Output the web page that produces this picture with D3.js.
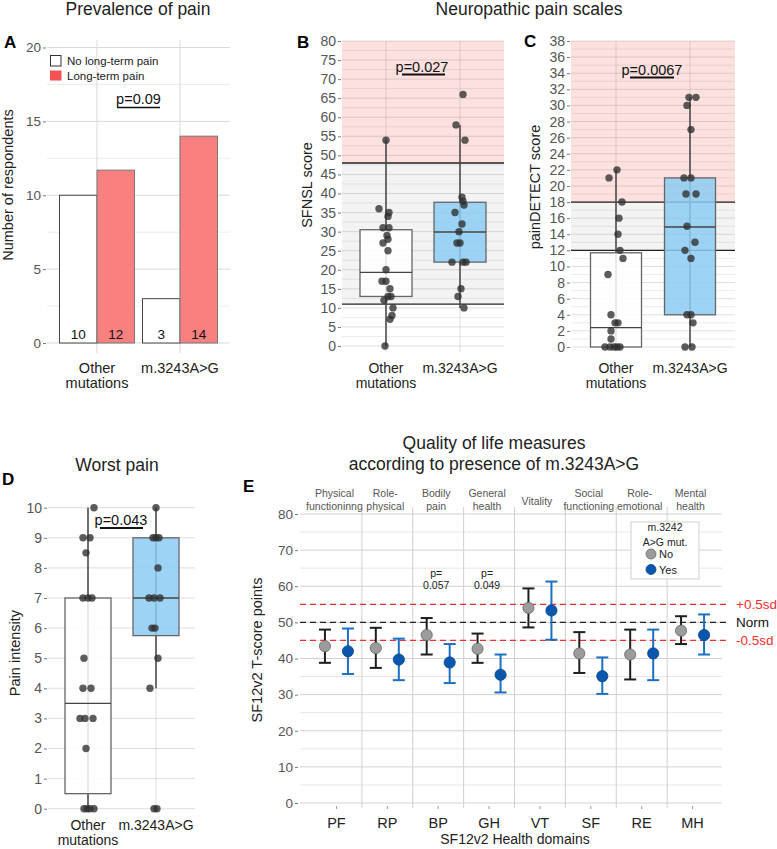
<!DOCTYPE html>
<html><head><meta charset="utf-8">
<script src="https://cdn.jsdelivr.net/npm/d3@7"></script>
<style>
body{margin:0;background:#fff;}
svg{display:block;font-family:"Liberation Sans",Arial,Helvetica,sans-serif;}
</style></head><body>
<svg id="chart" width="777" height="849"></svg>
<script>
// ---------- DATA ----------
const groups = ["Other mutations", "m.3243A>G"];
const groupTickLabels = [["Other", "mutations"], ["m.3243A>G"]];

// Panel A: prevalence of pain
const noPainCounts = [10, 3];
const painCounts = [11.7, 14];
const noPainLabels = ["10", "3"];
const painLabels = ["12", "14"];
const prevTicks = [0, 5, 10, 15, 20];
const prevLegend = ["No long-term pain", "Long-term pain"];

// Panel B: SFNSL
const sfnslOther = [54, 36, 35, 34, 31, 31, 29, 28, 27, 25, 20, 17, 17, 15, 13, 13, 12, 10, 8, 7, 0];
const sfnslOtherJit = [0, -7, 3, 2, -3, 3, 1, 2, -3, 2, 0, -4, 0, 4, 2, 5, -2, 7, 6, 4, -1];
const sfnslM = [66, 58, 54, 39, 38, 37, 35, 32, 30, 27, 27, 22, 22, 22, 15, 13, 10];
const sfnslMJit = [3, -4, 5, 2, 3, 4, -5, 2, -1, -3, 0, -8, 3, 6, 1, -2, 4];
const sfnslBoxOther = [0, 13, 19.3, 30.5, 54];   // low, q1, median, q3, high
const sfnslBoxM = [10, 22, 29.9, 37.7, 58];
const sfnslTicks = d3.range(0, 81, 5);
const sfnslCutoffs = [11, 48];

// Panel C: painDETECT
const pdOther = [22, 21, 18, 16, 14, 12, 11, 9, 4, 3, 3, 2, 1, 0, 0, 0, 0, 0];
const pdOtherJit = [1, -7, 6, 3, 2, 4, 7, -8, -5, -1, 2, -5, -5, -11, -6, -2, 1, 4];
const pdM = [31, 31, 30, 27, 21, 21, 19, 19, 15, 13, 12, 11, 4, 4, 3, 0, 0];
const pdMJit = [-1, 6, -3, 1, -6, 1, -4, 6, -3, 5, -5, 1, -3, 1, 3, -5, 2];
const pdBoxOther = [0, 0, 2.4, 11.7, 22];
const pdBoxM = [0, 4, 14.9, 21, 31];
const pdTicks = d3.range(0, 39, 2);
const pdCutoffs = [12, 18];

// Panel D: worst pain
const worstOther = [10, 9, 9, 8.5, 7, 7, 7, 5, 4, 4, 3, 3, 3, 2, 0, 0, 0, 0];
const worstOtherJit = [6, -5, 2, -2, -5, 0, 4, -4, -5, 3, -8, -3, 5, -2, -4, -1, 2, 6];
const worstM = [10, 9, 9, 9, 8, 7, 7, 7, 6, 6, 5, 4, 0, 0];
const worstMJit = [0, -3, 0, 3, 2, -7, -2, 4, -4, -1, 2, -6, -2, 1];
const worstBoxOther = [0, 0.5, 3.5, 7, 10];
const worstBoxM = [4, 5.75, 7, 9, 10];
const worstTicks = d3.range(0, 11, 1);

// Panel E: SF12v2
const domains = ["PF", "RP", "BP", "GH", "VT", "SF", "RE", "MH"];
const domainNames = [["Physical", "functioninng"], ["Role-", "physical"], ["Bodily", "pain"], ["General", "health"],
  ["Vitality"], ["Social", "functioning"], ["Role-", "emotional"], ["Mental", "health"]];
const noMean = [43.4, 42.9, 46.5, 42.7, 54.0, 41.4, 41.1, 47.7];
const noLow = [38.8, 37.4, 41.1, 38.8, 48.6, 36.0, 34.2, 44.0];
const noHigh = [48.0, 48.5, 51.2, 46.9, 59.4, 47.3, 48.0, 51.7];
const yesMean = [42.0, 39.7, 38.9, 35.5, 53.3, 35.1, 41.4, 46.5];
const yesLow = [35.7, 34.0, 33.2, 30.6, 45.2, 30.2, 34.0, 41.1];
const yesHigh = [48.3, 45.5, 44.0, 41.1, 61.3, 40.3, 48.0, 52.2];
const pDomains = ["BP", "GH"];
const pValues = ["0.057", "0.049"];
const refValues = [55, 50, 45];
const refLabels = ["+0.5sd", "Norm", "-0.5sd"];
const sfTicks = d3.range(0, 81, 10);

// ---------- DRAW ----------
const svg = d3.select("#chart");
const GRAY = "#555";

function text(x, y, s, o = {}) {
  const t = svg.append("text").attr("x", x).attr("y", y).text(s)
    .attr("font-size", o.size || 14).attr("fill", o.fill || "#222")
    .attr("text-anchor", o.anchor || "middle");
  if (o.weight) t.attr("font-weight", o.weight);
  if (o.rotate) t.attr("transform", `rotate(-90,${x},${y})`);
  return t;
}
function leftAxis(scale, x, ticks, size) {
  const g = svg.append("g").attr("transform", `translate(${x},0)`)
    .call(d3.axisLeft(scale).tickValues(ticks).tickSize(3).tickPadding(2));
  g.select(".domain").remove();
  g.selectAll(".tick line").attr("stroke", "#777");
  g.selectAll(".tick text").attr("font-size", size).attr("fill", GRAY)
    .attr("font-family", "Liberation Sans, Arial, sans-serif");
  return g;
}

// Titles
text(138, 15, "Prevalence of pain", { size: 17.5 });
text(529, 15, "Neuropathic pain scales", { size: 17.5 });
text(117, 471, "Worst pain", { size: 17.5 });
text(494, 449, "Quality of life measures", { size: 17.5 });
text(494, 470, "according to presence of m.3243A>G", { size: 17.5 });
// Panel letters
text(4, 48, "A", { size: 17, weight: "bold", anchor: "start", fill: "#000" });
text(297, 48, "B", { size: 17, weight: "bold", anchor: "start", fill: "#000" });
text(524, 47, "C", { size: 17, weight: "bold", anchor: "start", fill: "#000" });
text(2, 485, "D", { size: 17, weight: "bold", anchor: "start", fill: "#000" });
text(243, 492, "E", { size: 17, weight: "bold", anchor: "start", fill: "#000" });

// ----- Panel A -----
{
  const y = d3.scaleLinear().domain([0, 20]).range([343, 47.5]);
  const x = d3.scalePoint().domain(groups).range([97, 180]);
  const sub = d3.scaleBand().domain(["no", "pain"]).range([-37.5, 37.5]);
  d3.range(0, 20.01, 2.5).forEach(v => {
    svg.append("line").attr("x1", 47).attr("x2", 230).attr("y1", y(v)).attr("y2", y(v))
      .attr("stroke", v % 5 === 0 ? "#d9d9d9" : "#ececec").attr("stroke-width", 1);
  });
  groups.forEach(gname => svg.append("line").attr("x1", x(gname)).attr("x2", x(gname))
    .attr("y1", 40).attr("y2", 353).attr("stroke", "#d9d9d9"));
  leftAxis(y, 46, prevTicks, 13.5);
  groups.forEach((gname, i) => {
    svg.append("rect").attr("x", x(gname) + sub("no")).attr("width", sub.bandwidth())
      .attr("y", y(noPainCounts[i])).attr("height", y(0) - y(noPainCounts[i]))
      .attr("fill", "#fff").attr("stroke", "#444").attr("stroke-width", 1);
    svg.append("rect").attr("x", x(gname) + sub("pain")).attr("width", sub.bandwidth())
      .attr("y", y(painCounts[i])).attr("height", y(0) - y(painCounts[i]))
      .attr("fill", "#f88080").attr("stroke", "#777").attr("stroke-width", 1);
    text(x(gname) + sub("no") + sub.bandwidth() / 2, 339, noPainLabels[i], { size: 13.5, fill: "#111" });
    text(x(gname) + sub("pain") + sub.bandwidth() / 2, 339, painLabels[i], { size: 13.5, fill: "#111" });
    groupTickLabels[i].forEach((l, k) => text(x(gname), 373 + k * 15, l, { size: 14.5 }));
  });
  // legend
  svg.append("rect").attr("x", 50.5).attr("y", 55.5).attr("width", 10.5).attr("height", 10.5)
    .attr("fill", "#fff").attr("stroke", "#333");
  svg.append("rect").attr("x", 50).attr("y", 70.5).attr("width", 11.5).attr("height", 10)
    .attr("fill", "#f25252");
  text(67, 64.5, prevLegend[0], { size: 11.5, anchor: "start" });
  text(67, 79.5, prevLegend[1], { size: 11.5, anchor: "start" });
  // p value
  text(138.5, 104, "p=0.09", { size: 14.5, fill: "#111" });
  svg.append("line").attr("x1", 117).attr("x2", 160).attr("y1", 107.5).attr("y2", 107.5)
    .attr("stroke", "#111").attr("stroke-width", 1.5);
  text(13, 185, "Number of respondents", { size: 14.5, rotate: true });
}

// ----- Box panels -----
function boxPanel(o) {
  const y = d3.scaleLinear().domain([0, o.max]).range([o.y0, o.y1]);
  const x = d3.scalePoint().domain(groups).range(o.centers);
  (o.shades || []).forEach(s => svg.append("rect").attr("x", o.px[0]).attr("width", o.px[1] - o.px[0])
    .attr("y", y(s[1])).attr("height", y(s[0]) - y(s[1])).attr("fill", s[2]));
  d3.range(0, o.max + 1e-6, o.gridStep).forEach(v => {
    const major = Math.abs(v / o.tickStep - Math.round(v / o.tickStep)) < 1e-6;
    svg.append("line").attr("x1", o.px[0]).attr("x2", o.px[1]).attr("y1", y(v)).attr("y2", y(v))
      .attr("stroke", "#000").attr("stroke-opacity", major ? 0.13 : 0.08);
  });
  groups.forEach(gname => svg.append("line").attr("x1", x(gname)).attr("x2", x(gname))
    .attr("y1", o.vTop).attr("y2", o.vBot).attr("stroke", "#000").attr("stroke-opacity", 0.12));
  (o.cuts || []).forEach(c => svg.append("line").attr("x1", o.px[0]).attr("x2", o.px[1])
    .attr("y1", y(c)).attr("y2", y(c)).attr("stroke", "#222").attr("stroke-width", 1.3));
  leftAxis(y, o.px[0] - 1, o.ticks, 14);
  o.boxes.forEach((b, i) => {
    const cx = x(groups[i]);
    svg.append("line").attr("x1", cx).attr("x2", cx).attr("y1", y(b[0])).attr("y2", y(b[4]))
      .attr("stroke", "#444").attr("stroke-width", 1.5);
    svg.append("rect").attr("x", cx - o.boxW / 2).attr("width", o.boxW)
      .attr("y", y(b[3])).attr("height", y(b[1]) - y(b[3]))
      .attr("fill", i === 0 ? "#ffffff" : "#8ccbf2").attr("fill-opacity", 0.85)
      .attr("stroke", "#666").attr("stroke-width", 1.3);
    svg.append("line").attr("x1", cx - o.boxW / 2).attr("x2", cx + o.boxW / 2)
      .attr("y1", y(b[2])).attr("y2", y(b[2])).attr("stroke", "#444").attr("stroke-width", 1.3);
  });
  o.points.forEach((pts, i) => {
    const cx = x(groups[i]);
    pts.forEach((v, k) => svg.append("circle").attr("cx", cx + o.jit[i][k]).attr("cy", y(v))
      .attr("r", o.r).attr("fill", "#2e2e2e").attr("fill-opacity", 0.78));
  });
  groups.forEach((gname, i) => groupTickLabels[i].forEach((l, k) =>
    text(x(gname), o.labY + k * o.labStep, l, { size: 14 })));
  text(o.pText[0], o.pText[1], o.pLabel, { size: 14.5, fill: "#111" });
  svg.append("line").attr("x1", o.pLine[0]).attr("x2", o.pLine[1]).attr("y1", o.pLine[2]).attr("y2", o.pLine[2])
    .attr("stroke", "#111").attr("stroke-width", 1.8);
  text(o.yl[0], o.yl[1], o.yLabel, { size: 14.5, rotate: true });
}

const PINK = "#fde1df", LGRAY = "#f3f3f3";
boxPanel({
  max: 80, y0: 346, y1: 41, px: [342, 504], centers: [386, 460], boxW: 52, r: 3.7,
  ticks: sfnslTicks, tickStep: 5, gridStep: 2.5, vTop: 41, vBot: 352,
  shades: [[48, 80, PINK], [11, 48, LGRAY]], cuts: sfnslCutoffs,
  boxes: [sfnslBoxOther, sfnslBoxM], points: [sfnslOther, sfnslM], jit: [sfnslOtherJit, sfnslMJit],
  labY: 373, labStep: 15, pText: [422, 72], pLabel: "p=0.027", pLine: [402, 445, 74.5],
  yl: [312, 185], yLabel: "SFNSL score"
});
boxPanel({
  max: 38, y0: 347, y1: 41, px: [571, 735], centers: [616, 690], boxW: 51, r: 3.7,
  ticks: pdTicks, tickStep: 2, gridStep: 1, vTop: 41, vBot: 352,
  shades: [[18, 38, PINK], [12, 18, LGRAY]], cuts: pdCutoffs,
  boxes: [pdBoxOther, pdBoxM], points: [pdOther, pdM], jit: [pdOtherJit, pdMJit],
  labY: 373, labStep: 15, pText: [652, 75], pLabel: "p=0.0067", pLine: [630, 674, 77.5],
  yl: [540, 187], yLabel: "painDETECT score"
});
boxPanel({
  max: 10, y0: 808.7, y1: 507.7, px: [48, 195], centers: [88, 156], boxW: 46, r: 3.7,
  ticks: worstTicks, tickStep: 1, gridStep: 1, vTop: 505, vBot: 813,
  shades: [], cuts: [],
  boxes: [worstBoxOther, worstBoxM], points: [worstOther, worstM], jit: [worstOtherJit, worstMJit],
  labY: 830, labStep: 15, pText: [121, 525], pLabel: "p=0.043", pLine: [100, 143, 528],
  yl: [20, 653], yLabel: "Pain intensity"
});

// ----- Panel E -----
{
  const y = d3.scaleLinear().domain([0, 80]).range([803, 514]);
  const x = d3.scaleBand().domain(domains).range([311, 718]);
  const off = 11.5;
  d3.range(0, 80.01, 5).forEach(v => svg.append("line").attr("x1", 300).attr("x2", 722)
    .attr("y1", y(v)).attr("y2", y(v)).attr("stroke", v % 10 === 0 ? "#d2d2d2" : "#e6e6e6"));
  domains.slice(1).forEach(d => svg.append("line").attr("x1", x(d)).attr("x2", x(d))
    .attr("y1", 507).attr("y2", 808).attr("stroke", "#cfcfcf"));
  leftAxis(y, 298, sfTicks, 13.5);
  // reference lines
  refValues.forEach((v, i) => {
    const col = i === 1 ? "#222" : "#f03030";
    svg.append("line").attr("x1", 300).attr("x2", 726).attr("y1", y(v)).attr("y2", y(v))
      .attr("stroke", col).attr("stroke-width", 1.2).attr("stroke-dasharray", "6,4");
    text(736, y(v) + 5, refLabels[i], { size: 13.5, anchor: "start", fill: i === 1 ? "#111" : "#f03030" });
  });
  domains.forEach((d, i) => {
    const c = x(d) + x.bandwidth() / 2;
    const lines = domainNames[i];
    if (lines.length === 1) text(c - 3, 505, lines[0], { size: 10.5, fill: GRAY });
    else lines.forEach((l, k) => text(c - 2, 497 + k * 13, l, { size: 10.5, fill: GRAY }));
    svg.append("line").attr("x1", c).attr("x2", c).attr("y1", 806).attr("y2", 809).attr("stroke", "#999");
    text(c, 828, d, { size: 14.5 });
    [[noMean, noLow, noHigh, -off, "#1e1e1e", "#9c9c9c", "#666"],
     [yesMean, yesLow, yesHigh, off, "#1d6fc2", "#0a57ad", "#06428a"]].forEach(s => {
      const cx = c + s[3];
      svg.append("line").attr("x1", cx).attr("x2", cx).attr("y1", y(s[1][i])).attr("y2", y(s[2][i]))
        .attr("stroke", s[4]).attr("stroke-width", 2);
      [s[1][i], s[2][i]].forEach(v => svg.append("line").attr("x1", cx - 6).attr("x2", cx + 6)
        .attr("y1", y(v)).attr("y2", y(v)).attr("stroke", s[4]).attr("stroke-width", 2));
      svg.append("circle").attr("cx", cx).attr("cy", y(s[0][i])).attr("r", 5.6)
        .attr("fill", s[5]).attr("stroke", s[6]).attr("stroke-width", 0.8);
    });
  });
  pDomains.forEach((d, i) => {
    const c = x(d) + x.bandwidth() / 2 - 2;
    text(c, 577, "p=", { size: 10.5 });
    text(c, 589, pValues[i], { size: 10.5 });
  });
  // legend
  svg.append("rect").attr("x", 631).attr("y", 522).attr("width", 68).attr("height", 57)
    .attr("fill", "#fff").attr("stroke", "#d0d0d0").attr("stroke-width", 1);
  text(665, 531, "m.3242", { size: 10.5 });
  text(665, 546, "A>G mut.", { size: 10.5 });
  svg.append("circle").attr("cx", 651).attr("cy", 554).attr("r", 5).attr("fill", "#9c9c9c").attr("stroke", "#666").attr("stroke-width", 0.8);
  svg.append("circle").attr("cx", 651).attr("cy", 569.5).attr("r", 5).attr("fill", "#0a57ad").attr("stroke", "#06428a").attr("stroke-width", 0.8);
  text(659, 558, "No", { size: 11, anchor: "start" });
  text(659, 573.5, "Yes", { size: 11, anchor: "start" });
  text(515, 844, "SF12v2 Health domains", { size: 14 });
  text(262, 650, "SF12v2 T-score points", { size: 14.5, rotate: true });
}
</script>
</body></html>
